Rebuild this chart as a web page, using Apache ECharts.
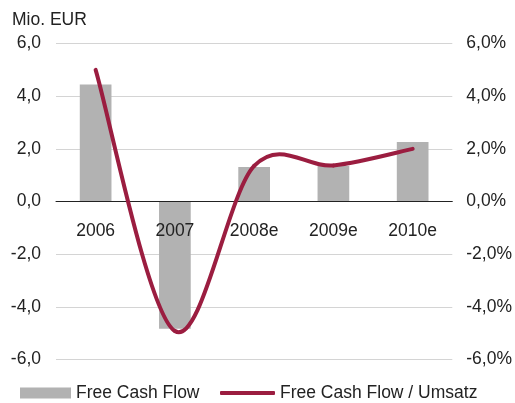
<!DOCTYPE html>
<html>
<head>
<meta charset="utf-8">
<script src="https://cdn.jsdelivr.net/npm/echarts@6/dist/echarts.min.js"></script>
<style>
html,body{margin:0;padding:0;background:#fff;}
#c{width:515px;height:403px;}
</style>
</head>
<body>
<div id="c"></div>
<script>
const categories = ['2006', '2007', '2008e', '2009e', '2010e'];
const freeCashFlow = [4.44, -4.83, 1.31, 1.35, 2.26];
const fcfUmsatz = [5.0, -4.92, 1.35, 1.37, 2.0];
const leftTicks = { min: -6, max: 6, interval: 2 };
const rightTicks = { min: -6, max: 6, interval: 2 };

const chart = echarts.init(document.getElementById('c'), null, { renderer: 'canvas' });
const font = 'Liberation Sans, Arial, Helvetica, sans-serif';
const fs = 17.5;
const lineColor = '#9b1d40';
const fmt = v => v.toFixed(1).replace('.', ',');

// Smooth (Catmull-Rom style) segment between point i and i+1, positioned by the axes
function renderSmoothSegment(params, api) {
  const i = params.dataIndex;
  const n = fcfUmsatz.length;
  if (i >= n - 1) return null;
  const P = j => {
    const k = Math.max(0, Math.min(n - 1, j));
    return api.coord([k, fcfUmsatz[k]]);
  };
  const p0 = P(i - 1), p1 = P(i), p2 = P(i + 1), p3 = P(i + 2);
  const t = 1 / 6;
  return {
    type: 'bezierCurve',
    shape: {
      x1: p1[0], y1: p1[1],
      cpx1: p1[0] + (p2[0] - p0[0]) * t, cpy1: p1[1] + (p2[1] - p0[1]) * t,
      cpx2: p2[0] - (p3[0] - p1[0]) * t, cpy2: p2[1] - (p3[1] - p1[1]) * t,
      x2: p2[0], y2: p2[1]
    },
    style: { stroke: lineColor, lineWidth: 4, fill: null, lineCap: 'round' }
  };
}

chart.setOption({
  animation: false,
  backgroundColor: '#fff',
  title: {
    text: 'Mio. EUR', left: 12, top: 11, padding: 0,
    textStyle: { fontFamily: font, fontSize: fs, fontWeight: 'normal', color: '#222' }
  },
  grid: { left: 56, right: 62, top: 43.5, bottom: 43.5, containLabel: false },
  legend: [
    {
      data: [{ name: 'Free Cash Flow', icon: 'rect', itemStyle: { color: '#b2b2b2' } }],
      left: 20, top: 384, padding: 0, itemWidth: 51, itemHeight: 11,
      textStyle: { fontFamily: font, fontSize: fs, color: '#222' }
    },
    {
      data: [{ name: 'Free Cash Flow / Umsatz', icon: 'roundRect', itemStyle: { color: lineColor } }],
      left: 220, top: 384, padding: 0, itemWidth: 55, itemHeight: 4,
      textStyle: { fontFamily: font, fontSize: fs, color: '#222' }
    }
  ],
  xAxis: {
    type: 'category', data: categories, z: 3,
    axisLine: { onZero: true, lineStyle: { color: '#222', width: 1 } },
    axisTick: { show: false },
    axisLabel: { fontFamily: font, fontSize: fs, color: '#222', margin: -137 },
    splitLine: { show: false }
  },
  yAxis: [
    {
      type: 'value', min: leftTicks.min, max: leftTicks.max, interval: leftTicks.interval,
      axisLine: { show: false }, axisTick: { show: false },
      axisLabel: { fontFamily: font, fontSize: fs, color: '#222', margin: 15, formatter: v => fmt(v) },
      splitLine: { lineStyle: { color: '#d4d4d4', width: 1 } }
    },
    {
      type: 'value', min: rightTicks.min, max: rightTicks.max, interval: rightTicks.interval,
      axisLine: { show: false }, axisTick: { show: false },
      axisLabel: { fontFamily: font, fontSize: fs, color: '#222', margin: 14, formatter: v => fmt(v) + '%' },
      splitLine: { show: false }
    }
  ],
  series: [
    {
      name: 'Free Cash Flow', type: 'bar', data: freeCashFlow, yAxisIndex: 0,
      barWidth: '40%', itemStyle: { color: '#b2b2b2' }
    },
    {
      name: 'Free Cash Flow / Umsatz', type: 'custom', yAxisIndex: 1, z: 4,
      data: fcfUmsatz.map((v, i) => [i, v]),
      encode: { x: 0, y: 1 },
      renderItem: renderSmoothSegment,
      itemStyle: { color: lineColor },
      clip: false
    }
  ]
});
</script>
</body>
</html>
